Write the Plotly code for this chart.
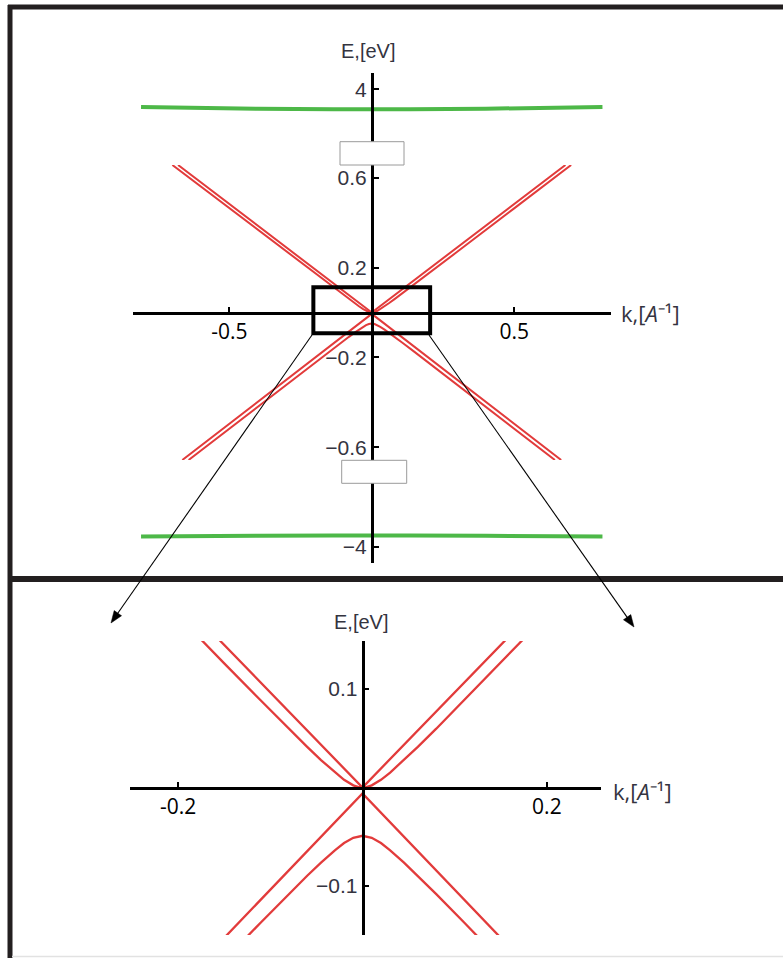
import math
import plotly.graph_objects as go

# ---- band data: wave number k [1/A] and energy E [eV] ----
band_a_k = [-0.68, 0.0, 0.68]
band_a_e = [0.656, 0.0, 0.656]

band_b_k = [-0.70, -0.50, -0.30, -0.20, -0.15, -0.11, -0.08, -0.06, -0.045, -0.03, -0.02, -0.01, -0.005, 0.0,
            0.005, 0.01, 0.02, 0.03, 0.045, 0.06, 0.08, 0.11, 0.15, 0.20, 0.30, 0.50, 0.70]
band_b_e = [0.656, 0.463, 0.270, 0.174, 0.126, 0.088, 0.0597, 0.0413, 0.0278, 0.0152, 0.0078, 0.0022, 0.0006, 0.0,
            0.0006, 0.0022, 0.0078, 0.0152, 0.0278, 0.0413, 0.0597, 0.088, 0.126, 0.174, 0.270, 0.463, 0.656]

band_c_k = [-0.665, 0.0, 0.665]
band_c_e = [-0.656, -0.006, -0.656]

band_d_k = [-0.643, -0.50, -0.30, -0.20, -0.15, -0.11, -0.08, -0.06, -0.045, -0.03, -0.02, -0.01, 0.0,
            0.01, 0.02, 0.03, 0.045, 0.06, 0.08, 0.11, 0.15, 0.20, 0.30, 0.50, 0.643]
band_d_e = [-0.656, -0.516, -0.321, -0.2236, -0.1752, -0.1367, -0.1082, -0.0896, -0.0762, -0.0637, -0.0564, -0.0511, -0.049,
            -0.0511, -0.0564, -0.0637, -0.0762, -0.0896, -0.1082, -0.1367, -0.1752, -0.2236, -0.321, -0.516, -0.656]

green_k = [-0.81, -0.40, 0.0, 0.40, 0.81]
green_top_e = [3.779, 3.757, 3.750, 3.757, 3.779]
green_bot_e = [-3.872, -3.863, -3.860, -3.863, -3.872]

# ---- tick labels ----
top_x_ticks = [-0.5, 0.5]
top_x_text = ["-0.5", "0.5"]
mid_y_ticks = [-0.6, -0.2, 0.2, 0.6]
mid_y_text = ["\u22120.6", "\u22120.2", "0.2", "0.6"]
high_y_ticks = [4]
high_y_text = ["4"]
low_y_ticks = [-4]
low_y_text = ["\u22124"]
zoom_x_ticks = [-0.2, 0.2]
zoom_x_text = ["-0.2", "0.2"]
zoom_y_ticks = [-0.1, 0.1]
zoom_y_text = ["\u22120.1", "0.1"]

W, H = 783, 958
RED = "#e23b3b"
GREEN = "#4db848"
INK = "#231f20"


def fx(p):
    return p / W


def fy(p):
    return 1 - p / H


def cross(dom, rng):
    # paper position of value 0 inside an axis with given domain and range
    return dom[0] + (0 - rng[0]) / (rng[1] - rng[0]) * (dom[1] - dom[0])


def arrow(tail, head, length=12.0, half=4.5):
    # thin connector line plus a filled triangular head, in pixel units
    dx, dy = head[0] - tail[0], head[1] - tail[1]
    n = math.hypot(dx, dy)
    ux, uy = dx / n, dy / n
    bx, by = head[0] - ux * length, head[1] - uy * length
    px, py = -uy * half, ux * half
    line = dict(type="line", xref="paper", yref="paper",
                x0=fx(tail[0]), y0=fy(tail[1]), x1=fx(bx + ux * 2), y1=fy(by + uy * 2),
                line=dict(color="black", width=1.1), layer="above")
    pts = [(head[0], head[1]), (bx + px, by + py), (bx - px, by - py)]
    path = "M " + " L ".join(f"{fx(x):.5f},{fy(y):.5f}" for x, y in pts) + " Z"
    tri = dict(type="path", xref="paper", yref="paper", path=path,
               fillcolor="black", line=dict(color="black", width=0.5), layer="above")
    return [line, tri]


# layout geometry (domains in paper units)
top_x_dom = [fx(132.5), fx(611)]
top_x_rng = [-0.84, 0.84]
mid_y_dom = [fy(460), fy(165)]
mid_y_rng = [-0.656, 0.656]
high_y_dom = [fy(141.7), fy(72.7)]
high_y_rng = [3.345, 4.2075]
low_y_dom = [fy(563.3), fy(483.3)]
low_y_rng = [-4.2075, -3.2075]
bot_x_dom = [fx(130), fx(601)]
bot_x_rng = [-0.2522, 0.2587]
bot_y_dom = [fy(935), fy(641)]
bot_y_rng = [-0.1497, 0.1487]

fig = go.Figure()

# overview panel: four red bands, green remote bands
for k, e in [(band_a_k, band_a_e), (band_b_k, band_b_e), (band_c_k, band_c_e), (band_d_k, band_d_e)]:
    fig.add_trace(go.Scatter(x=k, y=e, mode="lines", xaxis="x", yaxis="y",
                             line=dict(color=RED, width=2), hoverinfo="skip"))
fig.add_trace(go.Scatter(x=green_k, y=green_top_e, mode="lines", xaxis="x", yaxis="y2",
                         line=dict(color=GREEN, width=4, shape="spline"), hoverinfo="skip"))
fig.add_trace(go.Scatter(x=green_k, y=green_bot_e, mode="lines", xaxis="x", yaxis="y3",
                         line=dict(color=GREEN, width=4, shape="spline"), hoverinfo="skip"))

# close-up panel near k = 0
for k, e in [(band_a_k, band_a_e), (band_b_k, band_b_e), (band_c_k, band_c_e), (band_d_k, band_d_e)]:
    fig.add_trace(go.Scatter(x=k, y=e, mode="lines", xaxis="x2", yaxis="y4",
                             line=dict(color=RED, width=2.3), hoverinfo="skip"))

axis_common = dict(showgrid=False, zeroline=False, showline=True, linecolor="black", linewidth=2.5,
                   ticks="inside", ticklen=5, tickwidth=2, tickcolor="black", fixedrange=True)
xfont = dict(family="Open Sans", size=21, color="black")
yfont = dict(family="Liberation Sans", size=21, color="#34343f")

fig.update_layout(
    width=W, height=H, margin=dict(l=0, r=0, t=0, b=0),
    paper_bgcolor="white", plot_bgcolor="rgba(0,0,0,0)", showlegend=False,
    xaxis=dict(domain=top_x_dom, range=top_x_rng, anchor="free",
               position=cross(mid_y_dom, mid_y_rng), side="bottom",
               tickvals=top_x_ticks, ticktext=top_x_text, tickfont=xfont, **axis_common),
    yaxis=dict(domain=mid_y_dom, range=mid_y_rng, anchor="free",
               position=cross(top_x_dom, top_x_rng), side="left",
               tickvals=mid_y_ticks, ticktext=mid_y_text, tickfont=yfont, **axis_common),
    yaxis2=dict(domain=high_y_dom, range=high_y_rng, anchor="free",
                position=cross(top_x_dom, top_x_rng), side="left",
                tickvals=high_y_ticks, ticktext=high_y_text, tickfont=yfont, **axis_common),
    yaxis3=dict(domain=low_y_dom, range=low_y_rng, anchor="free",
                position=cross(top_x_dom, top_x_rng), side="left",
                tickvals=low_y_ticks, ticktext=low_y_text, tickfont=yfont, **axis_common),
    xaxis2=dict(domain=bot_x_dom, range=bot_x_rng, anchor="free",
                position=cross(bot_y_dom, bot_y_rng), side="bottom",
                tickvals=zoom_x_ticks, ticktext=zoom_x_text, tickfont=xfont, **axis_common),
    yaxis4=dict(domain=bot_y_dom, range=bot_y_rng, anchor="free",
                position=cross(bot_x_dom, bot_x_rng), side="left",
                tickvals=zoom_y_ticks, ticktext=zoom_y_text, tickfont=yfont, **axis_common),
)

shapes = [
    # axis-break boxes on the energy axis
    dict(type="rect", xref="paper", yref="paper", x0=fx(340), x1=fx(404), y0=fy(165), y1=fy(141.7),
         fillcolor="white", line=dict(color="#9a9a9a", width=1), layer="above"),
    dict(type="rect", xref="paper", yref="paper", x0=fx(341.7), x1=fx(406.7), y0=fy(483.3), y1=fy(460.3),
         fillcolor="white", line=dict(color="#9a9a9a", width=1), layer="above"),
    # region enlarged in the lower panel
    dict(type="rect", xref="x", yref="y", x0=-0.205, x1=0.205, y0=-0.092, y1=0.112,
         line=dict(color="black", width=4), layer="above"),
    # frame lines
    dict(type="line", xref="paper", yref="paper", x0=fx(8), x1=1, y0=fy(7), y1=fy(7),
         line=dict(color=INK, width=5)),
    dict(type="line", xref="paper", yref="paper", x0=fx(10), x1=fx(10), y0=fy(5), y1=0,
         line=dict(color=INK, width=5)),
    dict(type="line", xref="paper", yref="paper", x0=fx(8), x1=1, y0=fy(579), y1=fy(579),
         line=dict(color=INK, width=6)),
    dict(type="line", xref="paper", yref="paper", x0=fx(12), x1=1, y0=fy(956.5), y1=fy(956.5),
         line=dict(color="#e2e2e2", width=1.5)),
]
# connectors from the enlarged box to the lower panel
shapes += arrow((312, 335), (111, 623))
shapes += arrow((429, 335), (634, 627))
fig.update_layout(shapes=shapes)

title_font = dict(family="Liberation Sans", size=20, color="#34343f")
kfont = dict(family="Open Sans", size=22, color="#34343f")
k_label = "k,[<i>A</i>\u207b\u00b9]"

annotations = [
    dict(text="E,[eV]", xref="x", x=0, yref="paper", y=fy(51), xanchor="center", yanchor="middle",
         xshift=-4, showarrow=False, font=title_font),
    dict(text=k_label, xref="x domain", x=1, yref="y", y=0, xanchor="left", yanchor="middle",
         xshift=8, yshift=-1, showarrow=False, font=kfont),
    dict(text="E,[eV]", xref="x2", x=0, yref="paper", y=fy(622), xanchor="center", yanchor="middle",
         xshift=-2, showarrow=False, font=title_font),
    dict(text=k_label, xref="x2 domain", x=1, yref="y4", y=0, xanchor="left", yanchor="middle",
         xshift=10, yshift=-3, showarrow=False, font=kfont),
]
fig.update_layout(annotations=annotations)

fig.write_html("out.html")
